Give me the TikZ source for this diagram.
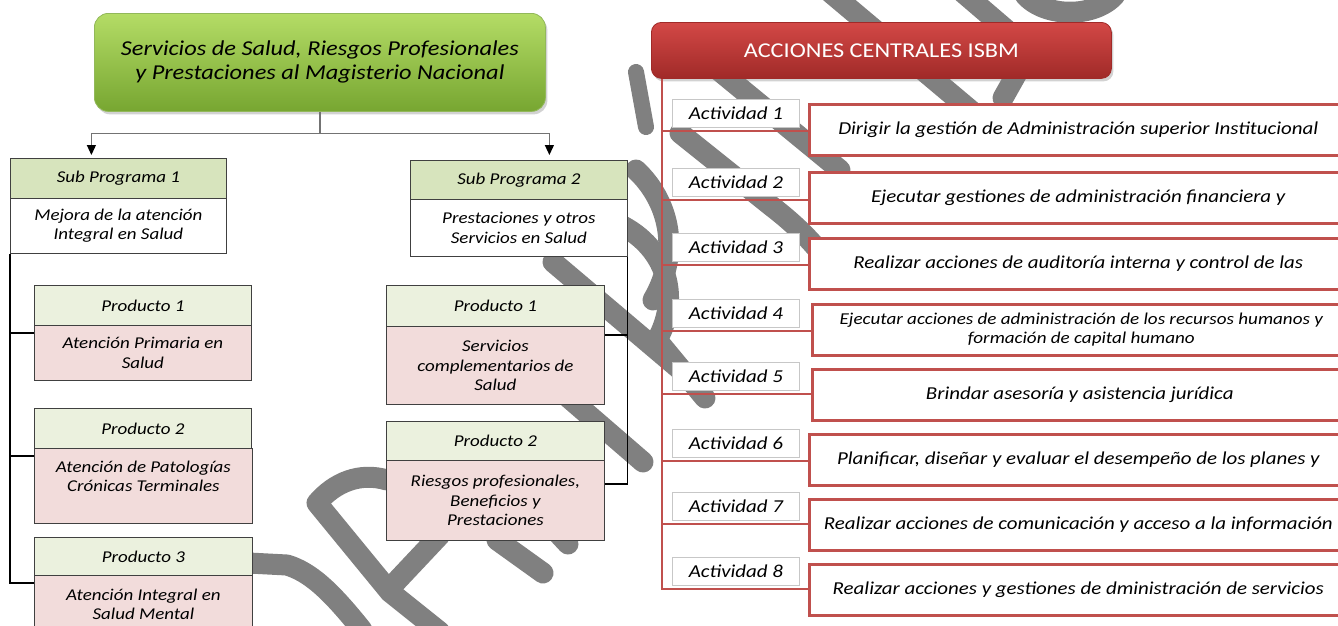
\documentclass[tikz,border=0pt]{standalone}
\usepackage{fontspec}
\setmainfont{Carlito}[FakeStretch=1.15]
\usetikzlibrary{arrows.meta,shadows}

\definecolor{verdeclaro}{HTML}{B4DC66}
\definecolor{verdeoscuro}{HTML}{77A631}
\definecolor{cabsub}{HTML}{D7E4BD}
\definecolor{cabprod}{HTML}{EBF1DE}
\definecolor{rosa}{HTML}{F2DCDB}
\definecolor{rojoclaro}{HTML}{D34846}
\definecolor{rojooscuro}{HTML}{A02A28}
\definecolor{rojolinea}{HTML}{C0504D}
\definecolor{marcagris}{HTML}{808080}

\begin{document}
\begin{tikzpicture}[x=1pt,y=-1pt,
    letra/.style={font=\fontsize{16.5}{19.5}\selectfont\itshape},
    letrader/.style={font=\fontsize{18.2}{19.5}\selectfont\itshape},
    caja/.style={letra,anchor=north west,align=center,inner sep=0pt,line width=0.8pt,draw=black!75},
    subcab/.style={caja,fill=cabsub,minimum height=40pt},
    subcuerpo/.style={caja,fill=white},
    prodcab/.style={caja,fill=cabprod,minimum width=217pt,minimum height=40pt},
    prodcuerpo/.style={caja,fill=rosa,minimum width=217pt},
    etiqueta/.style={caja,letrader,draw=black!22,fill=white,minimum width=127pt,minimum height=28pt},
    descripcion/.style={caja,letrader,draw=rojolinea,line width=2.6pt,fill=white,minimum width=538pt,minimum height=51pt},
    rama/.style={draw=black,line width=1.2pt},
    rojo/.style={draw=rojolinea,line width=2.6pt},
    flecha/.style={draw=black!55,line width=1.2pt},
    marca/.style={draw=marcagris,line width=21pt,line cap=round,line join=round}]
    \useasboundingbox (0,0) rectangle (1338,625);
    \clip (0,0) rectangle (1338,625);
    \fill[white] (0,0) rectangle (1338,625);

    % marca de agua (debajo de todo)
    \draw[marca,line width=16pt] (636,72) -- (646,127);
    \draw[marca] (700,55) -- (840,170);
    \draw[marca] (680,133) -- (770,205) .. controls (800,228) and (815,245) .. (830,265);
    \draw[marca] (636,170) .. controls (668,200) and (682,250) .. (653,300);
    \draw[marca] (603,218) .. controls (660,235) and (685,290) .. (657,340) -- (705,398);
    \draw[marca] (553,262) -- (690,378);
    \draw[marca] (540,373) -- (643,462);
    \draw[marca] (387,480) .. controls (360,472) and (335,482) .. (317,503) -- (390,592) -- (440,632);
    \draw[marca] (392,586) -- (440,535);
    \draw[marca] (497,540) -- (543,573);
    \draw[marca] (555,530) -- (568,544);
    \draw[marca] (230,562) -- (287,565) .. controls (310,572) and (330,590) .. (362,630);
    \draw[marca] (825,-12) -- (1000,135);
    \draw[marca] (960,-10) -- (1030,50) -- (1003,98);
    \draw[marca] (1025,-5) .. controls (1045,18) and (1095,18) .. (1115,-5);

    % programa
    \node[caja,rounded corners=14pt,top color=verdeclaro,bottom color=verdeoscuro,draw=verdeoscuro!80,
          drop shadow={shadow xshift=2pt,shadow yshift=-3pt,opacity=0.35},
          minimum width=451pt,minimum height=98pt,font=\fontsize{21.2}{24}\selectfont\itshape]
          (titulo) at (94,13) {Servicios de Salud, Riesgos Profesionales\\y Prestaciones al Magisterio Nacional};

    \node[subcab,minimum width=216pt] (sp1) at (10,158) {Sub Programa 1};
    \node[subcuerpo,minimum width=216pt,minimum height=55pt] (sp1b) at (10,198) {Mejora de la atención\\Integral en Salud};
    \node[subcab,minimum width=217pt,minimum height=39pt] (sp2) at (410,160) {Sub Programa 2};
    \node[subcuerpo,minimum width=217pt,minimum height=57pt] (sp2b) at (410,199) {Prestaciones y otros\\Servicios en Salud};

    \draw[flecha] (titulo.south) -- ++(0,22) coordinate (cruce);
    \draw[flecha,-{Triangle[length=10pt,width=9pt,color=black]}] (cruce) -| ([xshift=-27pt,yshift=3pt]sp1.north);
    \draw[flecha,-{Triangle[length=10pt,width=9pt,color=black]}] (cruce) -| ([xshift=30.5pt,yshift=5pt]sp2.north);

    % productos sub programa 1
    \node[prodcab] (lp1) at (34,285) {Producto 1};
    \node[prodcuerpo,minimum height=55pt] (lp1b) at (34,325) {Atención Primaria en\\Salud};
    \node[prodcab] (lp2) at (34,408) {Producto 2};
    \node[prodcuerpo,minimum width=218pt,minimum height=75pt] (lp2b) at (34,448) {Atención de Patologías\\Crónicas Terminales\\\mbox{}};
    \node[prodcab,minimum width=218pt,minimum height=38pt] (lp3) at (34,537) {Producto 3};
    \node[prodcuerpo,minimum width=218pt,minimum height=58pt] (lp3b) at (34,575) {Atención Integral en\\Salud Mental};

    % productos sub programa 2
    \node[prodcab,minimum width=218pt,minimum height=41pt] (rp1) at (386,285) {Producto 1};
    \node[prodcuerpo,minimum width=218pt,minimum height=78pt] (rp1b) at (386,326) {Servicios\\complementarios de\\Salud};
    \node[prodcab,minimum width=218pt,minimum height=39pt] (rp2) at (386,421) {Producto 2};
    \node[prodcuerpo,minimum width=218pt,minimum height=80pt] (rp2b) at (386,460) {Riesgos profesionales,\\Beneficios y\\Prestaciones};

    \foreach \p in {lp1b,lp2b,lp3b}
        \draw[rama] (sp1b.south west) |- ([yshift=-8pt]\p.north west);
    \draw[rama] (sp2b.south east) |- ([yshift=-9pt]rp1b.north east);
    \draw[rama] (sp2b.south east) |- ([yshift=-24pt]rp2b.north east);

    % acciones centrales
    \node[caja,rounded corners=10pt,top color=rojoclaro,bottom color=rojooscuro,draw=rojooscuro,
          drop shadow={shadow xshift=2pt,shadow yshift=-3pt,opacity=0.35},
          minimum width=460pt,minimum height=56pt,text=white,font=\fontsize{21.1}{24}\selectfont]
          (acc) at (651,22) {ACCIONES CENTRALES ISBM};
    \coordinate (tronco) at ([xshift=11pt]acc.south west);

    \foreach \i/\y in {1/99,2/168,3/233,4/299,5/362,6/429,7/492,8/557}
        \node[etiqueta] (a\i) at (672,\y) {Actividad \i};

    \node[descripcion] (d1) at (808,103) {Dirigir la gestión de Administración superior Institucional};
    \node[descripcion] (d2) at (808,171) {Ejecutar gestiones de administración financiera y};
    \node[descripcion] (d3) at (808,237) {Realizar acciones de auditoría interna y control de las};
    \node[descripcion,font=\fontsize{16.6}{19.5}\selectfont\itshape] (d4) at (811,303) {Ejecutar acciones de administración de los recursos humanos y\\formación de capital humano};
    \node[descripcion,minimum width=535pt] (d5) at (811,368) {Brindar asesoría y asistencia jurídica};
    \node[descripcion] (d6) at (808,433) {Planificar, diseñar y evaluar el desempeño de los planes y};
    \node[descripcion] (d7) at (808,498) {Realizar acciones de comunicación y acceso a la información};
    \node[descripcion] (d8) at (808,563) {Realizar acciones y gestiones de dministración de servicios};

    \foreach \i in {1,...,8}
        \draw[rojo] (tronco) |- ([yshift=-3pt]d\i.west |- a\i.south);
\end{tikzpicture}
\end{document}
